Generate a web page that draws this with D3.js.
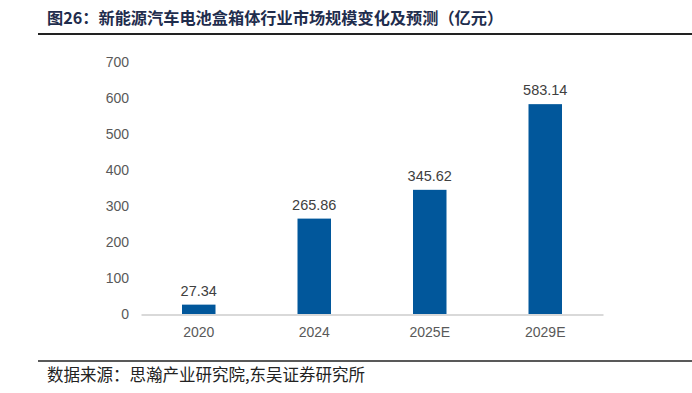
<!DOCTYPE html>
<html>
<head>
<meta charset="utf-8">
<script src="https://cdn.jsdelivr.net/npm/d3@7"></script>
<style>
  body { margin: 0; background: #fff; }
</style>
</head>
<body>
<div id="chart"></div>
<script>
const years = ["2020", "2024", "2025E", "2029E"];
const values = [27.34, 265.86, 345.62, 583.14];
const yTicks = [0, 100, 200, 300, 400, 500, 600, 700];

const W = 692, H = 393;
const svg = d3.select("#chart").append("svg")
  .attr("width", W).attr("height", H);

// title + rules
svg.append("text")
  .attr("x", 47).attr("y", 24)
  .attr("font-family", "'Noto Sans CJK SC', sans-serif")
  .attr("font-weight", "bold")
  .attr("font-size", 16.2)
  .attr("fill", "#1f2d4d")
  .text("图26：新能源汽车电池盒箱体行业市场规模变化及预测（亿元）");

svg.append("line")
  .attr("x1", 38).attr("x2", W).attr("y1", 34).attr("y2", 34)
  .attr("stroke", "#222").attr("stroke-width", 2);

svg.append("line")
  .attr("x1", 38).attr("x2", W).attr("y1", 361).attr("y2", 361)
  .attr("stroke", "#222").attr("stroke-width", 1.5);

svg.append("text")
  .attr("x", 47).attr("y", 381)
  .attr("font-family", "'Noto Sans CJK SC', sans-serif")
  .attr("font-size", 16.5)
  .attr("fill", "#222")
  .text("数据来源：思瀚产业研究院,东吴证券研究所");

// chart
const x = d3.scaleBand().domain(years).range([141, 603])
  .paddingInner(0.71).paddingOuter(0.355);
const y = d3.scaleLinear().domain([0, 700]).range([314.5, 62]);

const font = "'Liberation Sans', Arial, sans-serif";

const yAxis = svg.append("g")
  .attr("transform", "translate(129,0)")
  .call(d3.axisLeft(y).tickValues(yTicks).tickSize(0).tickPadding(0));
yAxis.select(".domain").remove();
yAxis.selectAll("text")
  .attr("font-family", font).attr("font-size", 14).attr("fill", "#595959");

svg.selectAll("rect.bar").data(values).join("rect")
  .attr("class", "bar")
  .attr("x", (d, i) => x(years[i]))
  .attr("width", x.bandwidth())
  .attr("y", d => y(d))
  .attr("height", d => y(0) - y(d))
  .attr("fill", "#01579b");

const xAxis = svg.append("g")
  .attr("transform", `translate(0,${y(0)})`)
  .call(d3.axisBottom(x).tickSize(0).tickPadding(12.5));
xAxis.select(".domain").attr("stroke", "#d9d9d9").attr("stroke-width", 2);
xAxis.selectAll("text")
  .attr("font-family", font).attr("font-size", 14).attr("fill", "#595959");

svg.selectAll("text.val").data(values).join("text")
  .attr("class", "val")
  .attr("x", (d, i) => x(years[i]) + x.bandwidth() / 2)
  .attr("y", d => y(d) - 9)
  .attr("text-anchor", "middle")
  .attr("font-family", font).attr("font-size", 14.5).attr("fill", "#404040")
  .text(d => d.toFixed(2));
</script>
</body>
</html>
